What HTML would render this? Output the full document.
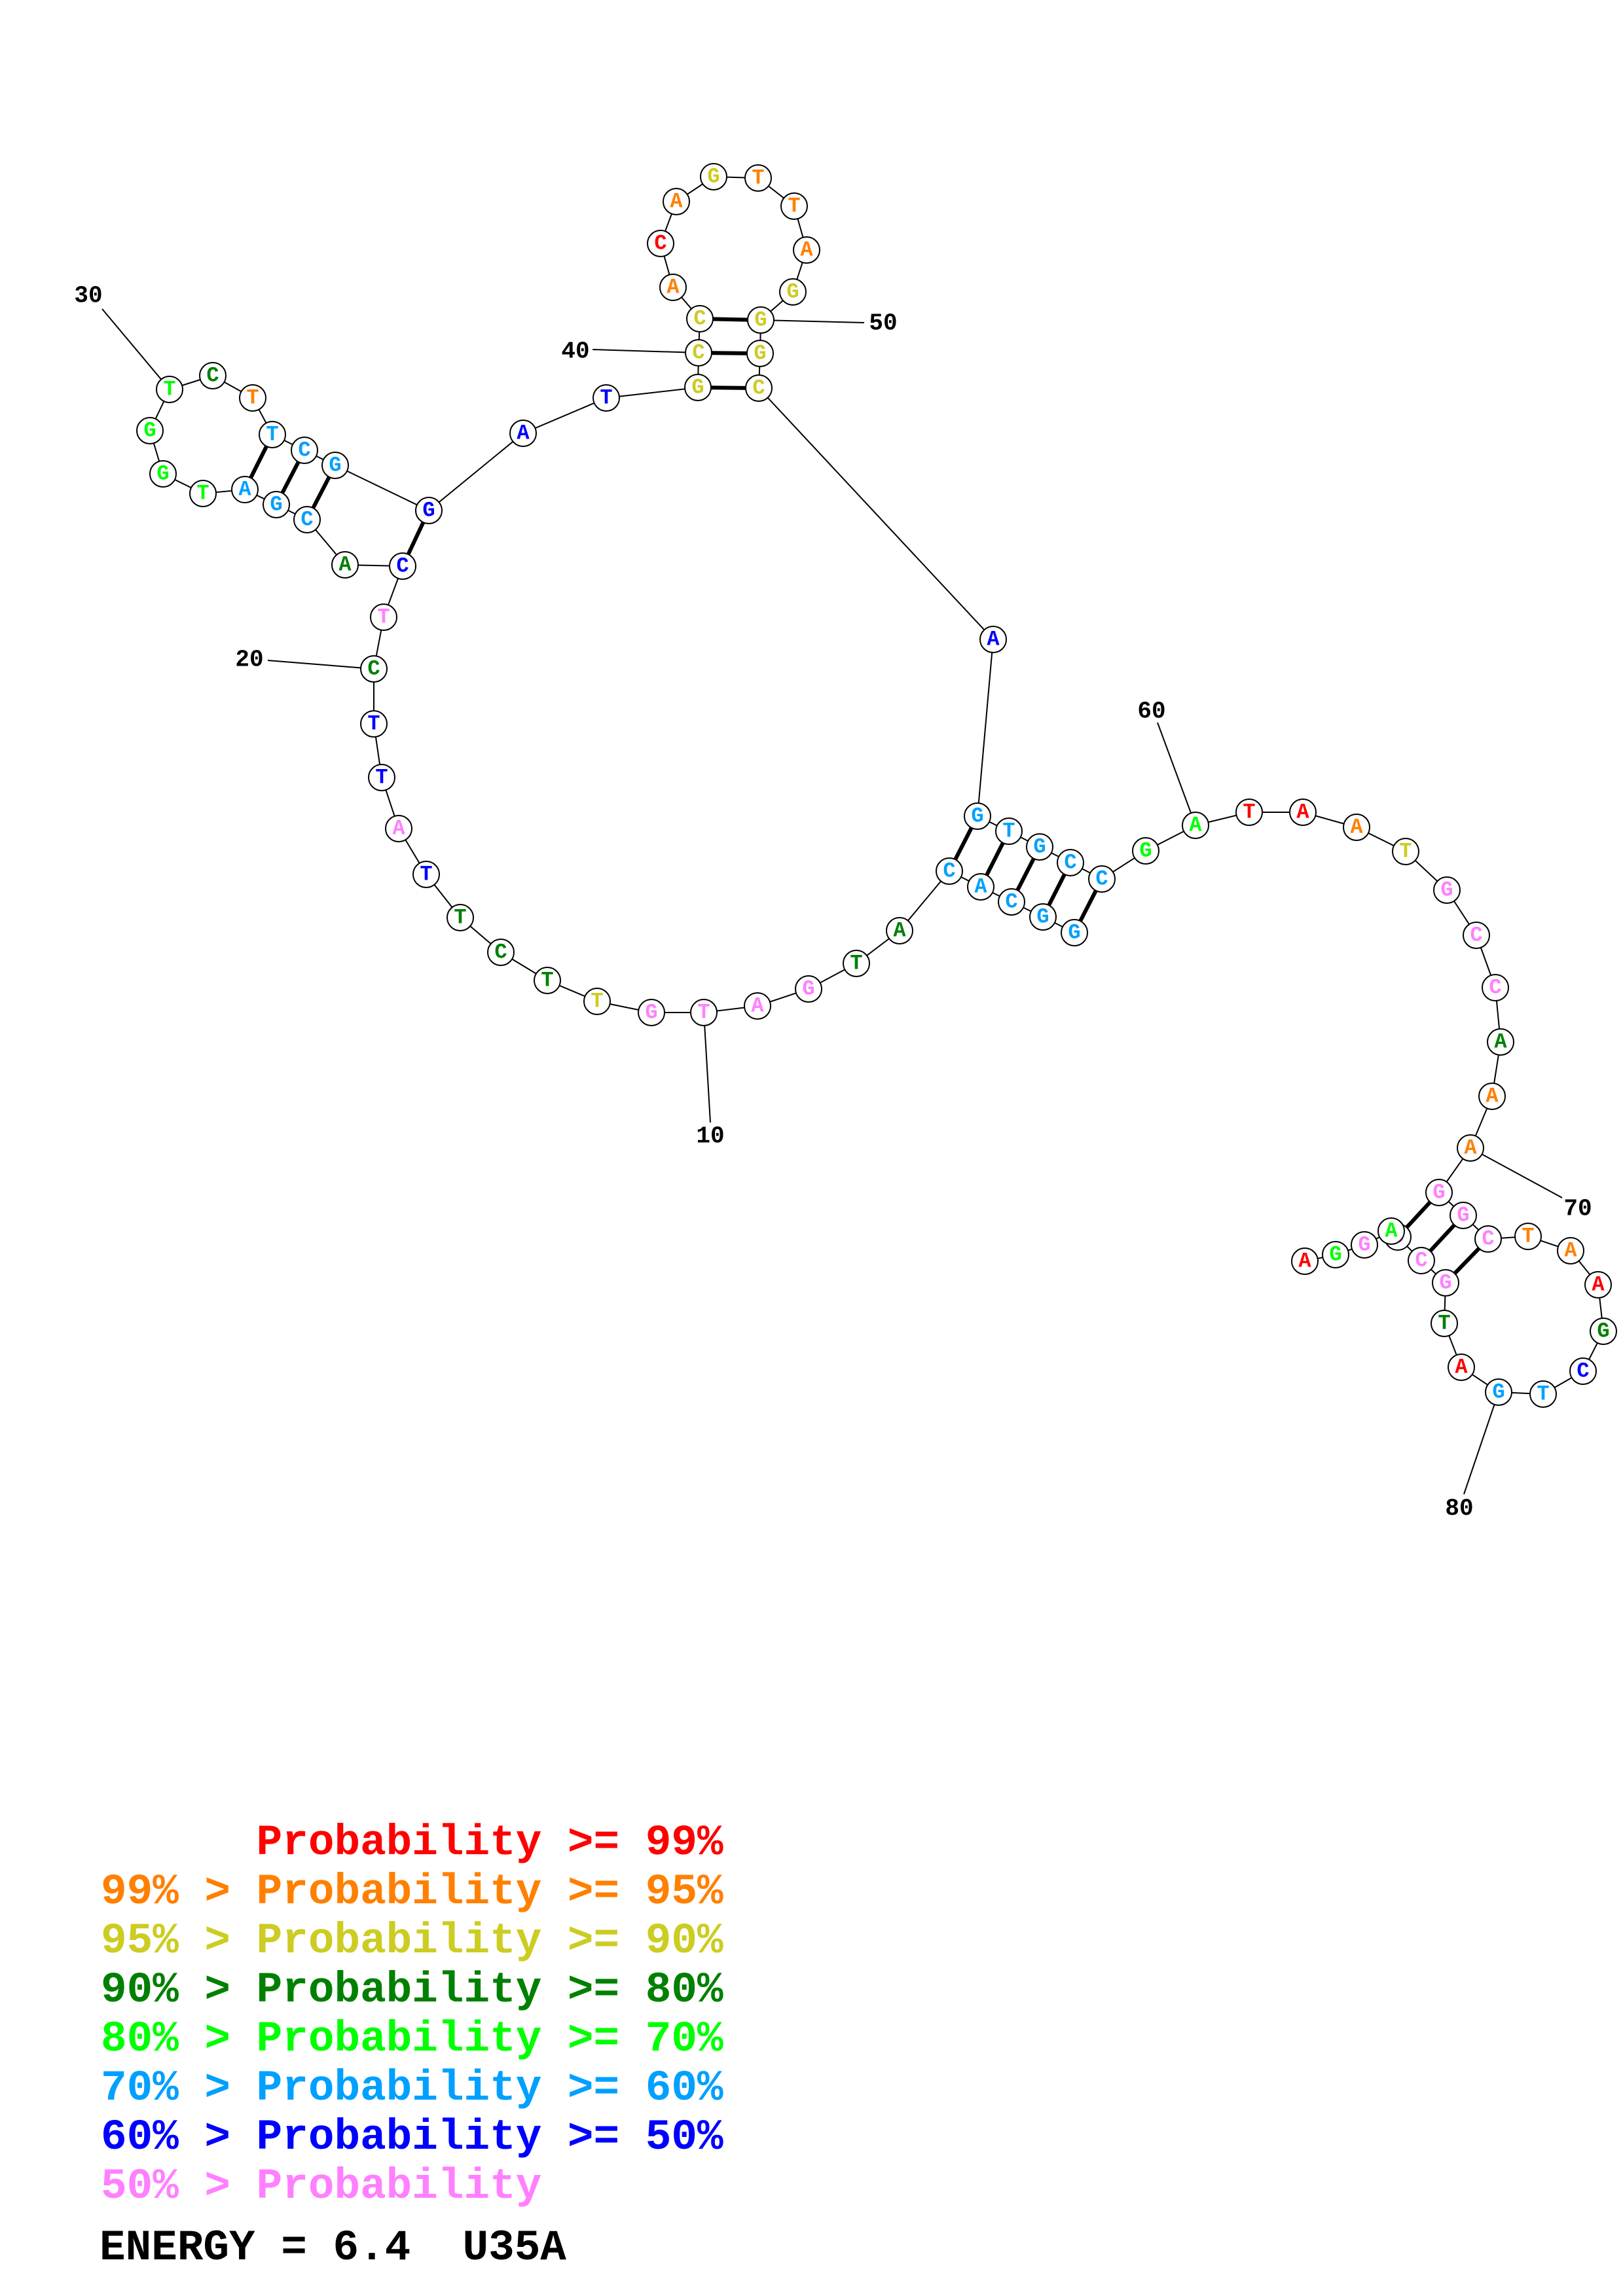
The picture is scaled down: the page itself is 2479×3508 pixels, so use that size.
<!DOCTYPE html>
<html><head><meta charset="utf-8"><style>
html,body{margin:0;padding:0;background:#fff;}
svg{display:block;}
.n{font-family:"Liberation Mono",monospace;font-weight:bold;font-size:32px;text-anchor:middle;dominant-baseline:central;}
.l{font-family:"Liberation Mono",monospace;font-weight:bold;font-size:36px;text-anchor:middle;dominant-baseline:central;fill:#000;}
.g{font-family:"Liberation Mono",monospace;font-weight:bold;font-size:66px;white-space:pre;}
circle{fill:#fff;stroke:#000;stroke-width:2;}
</style></head><body>
<svg width="2479" height="3508" viewBox="0 0 2479 3508" xmlns="http://www.w3.org/2000/svg">
<rect width="2479" height="3508" fill="#fff"/>
<g stroke="#000" stroke-width="2" fill="none">
<polyline points="1641,1425 1593,1401 1545,1378 1498,1355 1450,1331 1374,1422 1308,1472 1235,1511 1157,1537 1075,1547 995,1547 912,1530 836,1498 765,1455 703,1402 651,1336 609,1266 583,1188 571,1106 571,1022 586,943 615,865 527,863 469,794 422,771 374,748 310,754 249,724 229,658 259,595 325,574 386,608 416,664 465,688 512,711 655,780 799,662 926,608 1066,592 1067,539 1069,487 1028,439 1009,372 1033,308 1090,270 1158,272 1213,315 1232,382 1211,446 1162,489 1161,540 1159,593 1517,977 1493,1247 1541,1270 1588,1294 1635,1318 1683,1343 1750,1300 1826,1261 1908,1241 1990,1241 2072,1264 2147,1301 2210,1360 2255,1429 2284,1509 2292,1592 2279,1675 2246,1754 2198,1822 2235,1857 2273,1893 2334,1889 2399,1911 2441,1963 2449,2034 2418,2095 2357,2130 2289,2127 2232,2089 2206,2022 2208,1960 2171,1926 2135,1890 2125,1881 2084,1902 2040,1917 1993,1927"/>
<line x1="1075" y1="1547" x2="1085" y2="1715"/>
<line x1="571" y1="1022" x2="409" y2="1009"/>
<line x1="259" y1="595" x2="156" y2="472"/>
<line x1="1067" y1="539" x2="905" y2="534"/>
<line x1="1162" y1="489" x2="1320" y2="493"/>
<line x1="1826" y1="1261" x2="1768" y2="1104"/>
<line x1="2246" y1="1754" x2="2386" y2="1830"/>
<line x1="2289" y1="2127" x2="2236" y2="2283"/>
</g>
<g stroke="#000" stroke-width="6">
<line x1="1450" y1="1331" x2="1493" y2="1247"/>
<line x1="1498" y1="1355" x2="1541" y2="1270"/>
<line x1="1545" y1="1378" x2="1588" y2="1294"/>
<line x1="1593" y1="1401" x2="1635" y2="1318"/>
<line x1="1641" y1="1425" x2="1683" y2="1343"/>
<line x1="615" y1="865" x2="655" y2="780"/>
<line x1="469" y1="794" x2="512" y2="711"/>
<line x1="422" y1="771" x2="465" y2="688"/>
<line x1="374" y1="748" x2="416" y2="664"/>
<line x1="1066" y1="592" x2="1159" y2="593"/>
<line x1="1067" y1="539" x2="1161" y2="540"/>
<line x1="1069" y1="487" x2="1162" y2="489"/>
<line x1="2135" y1="1890" x2="2198" y2="1822"/>
<line x1="2171" y1="1926" x2="2235" y2="1857"/>
<line x1="2208" y1="1960" x2="2273" y2="1893"/>
</g>
<text class="l" x="1085" y="1736">10</text>
<text class="l" x="381" y="1008">20</text>
<text class="l" x="135" y="452">30</text>
<text class="l" x="879" y="537">40</text>
<text class="l" x="1349" y="494">50</text>
<text class="l" x="1759" y="1087">60</text>
<text class="l" x="2410" y="1847">70</text>
<text class="l" x="2229" y="2305">80</text>
<g>
<circle cx="1641" cy="1425" r="20"/><text class="n" x="1641" y="1425" fill="#00a0ff">G</text>
<circle cx="1593" cy="1401" r="20"/><text class="n" x="1593" y="1401" fill="#00a0ff">G</text>
<circle cx="1545" cy="1378" r="20"/><text class="n" x="1545" y="1378" fill="#00a0ff">C</text>
<circle cx="1498" cy="1355" r="20"/><text class="n" x="1498" y="1355" fill="#00a0ff">A</text>
<circle cx="1450" cy="1331" r="20"/><text class="n" x="1450" y="1331" fill="#00a0ff">C</text>
<circle cx="1374" cy="1422" r="20"/><text class="n" x="1374" y="1422" fill="#008000">A</text>
<circle cx="1308" cy="1472" r="20"/><text class="n" x="1308" y="1472" fill="#008000">T</text>
<circle cx="1235" cy="1511" r="20"/><text class="n" x="1235" y="1511" fill="#ff80ff">G</text>
<circle cx="1157" cy="1537" r="20"/><text class="n" x="1157" y="1537" fill="#ff80ff">A</text>
<circle cx="1075" cy="1547" r="20"/><text class="n" x="1075" y="1547" fill="#ff80ff">T</text>
<circle cx="995" cy="1547" r="20"/><text class="n" x="995" y="1547" fill="#ff80ff">G</text>
<circle cx="912" cy="1530" r="20"/><text class="n" x="912" y="1530" fill="#cccc22">T</text>
<circle cx="836" cy="1498" r="20"/><text class="n" x="836" y="1498" fill="#008000">T</text>
<circle cx="765" cy="1455" r="20"/><text class="n" x="765" y="1455" fill="#008000">C</text>
<circle cx="703" cy="1402" r="20"/><text class="n" x="703" y="1402" fill="#008000">T</text>
<circle cx="651" cy="1336" r="20"/><text class="n" x="651" y="1336" fill="#0000ff">T</text>
<circle cx="609" cy="1266" r="20"/><text class="n" x="609" y="1266" fill="#ff80ff">A</text>
<circle cx="583" cy="1188" r="20"/><text class="n" x="583" y="1188" fill="#0000ff">T</text>
<circle cx="571" cy="1106" r="20"/><text class="n" x="571" y="1106" fill="#0000ff">T</text>
<circle cx="571" cy="1022" r="20"/><text class="n" x="571" y="1022" fill="#008000">C</text>
<circle cx="586" cy="943" r="20"/><text class="n" x="586" y="943" fill="#ff80ff">T</text>
<circle cx="615" cy="865" r="20"/><text class="n" x="615" y="865" fill="#0000ff">C</text>
<circle cx="527" cy="863" r="20"/><text class="n" x="527" y="863" fill="#008000">A</text>
<circle cx="469" cy="794" r="20"/><text class="n" x="469" y="794" fill="#00a0ff">C</text>
<circle cx="422" cy="771" r="20"/><text class="n" x="422" y="771" fill="#00a0ff">G</text>
<circle cx="374" cy="748" r="20"/><text class="n" x="374" y="748" fill="#00a0ff">A</text>
<circle cx="310" cy="754" r="20"/><text class="n" x="310" y="754" fill="#00ff00">T</text>
<circle cx="249" cy="724" r="20"/><text class="n" x="249" y="724" fill="#00ff00">G</text>
<circle cx="229" cy="658" r="20"/><text class="n" x="229" y="658" fill="#00ff00">G</text>
<circle cx="259" cy="595" r="20"/><text class="n" x="259" y="595" fill="#00ff00">T</text>
<circle cx="325" cy="574" r="20"/><text class="n" x="325" y="574" fill="#008000">C</text>
<circle cx="386" cy="608" r="20"/><text class="n" x="386" y="608" fill="#ff8000">T</text>
<circle cx="416" cy="664" r="20"/><text class="n" x="416" y="664" fill="#00a0ff">T</text>
<circle cx="465" cy="688" r="20"/><text class="n" x="465" y="688" fill="#00a0ff">C</text>
<circle cx="512" cy="711" r="20"/><text class="n" x="512" y="711" fill="#00a0ff">G</text>
<circle cx="655" cy="780" r="20"/><text class="n" x="655" y="780" fill="#0000ff">G</text>
<circle cx="799" cy="662" r="20"/><text class="n" x="799" y="662" fill="#0000ff">A</text>
<circle cx="926" cy="608" r="20"/><text class="n" x="926" y="608" fill="#0000ff">T</text>
<circle cx="1066" cy="592" r="20"/><text class="n" x="1066" y="592" fill="#cccc22">G</text>
<circle cx="1067" cy="539" r="20"/><text class="n" x="1067" y="539" fill="#cccc22">C</text>
<circle cx="1069" cy="487" r="20"/><text class="n" x="1069" y="487" fill="#cccc22">C</text>
<circle cx="1028" cy="439" r="20"/><text class="n" x="1028" y="439" fill="#ff8000">A</text>
<circle cx="1009" cy="372" r="20"/><text class="n" x="1009" y="372" fill="#ff0000">C</text>
<circle cx="1033" cy="308" r="20"/><text class="n" x="1033" y="308" fill="#ff8000">A</text>
<circle cx="1090" cy="270" r="20"/><text class="n" x="1090" y="270" fill="#cccc22">G</text>
<circle cx="1158" cy="272" r="20"/><text class="n" x="1158" y="272" fill="#ff8000">T</text>
<circle cx="1213" cy="315" r="20"/><text class="n" x="1213" y="315" fill="#ff8000">T</text>
<circle cx="1232" cy="382" r="20"/><text class="n" x="1232" y="382" fill="#ff8000">A</text>
<circle cx="1211" cy="446" r="20"/><text class="n" x="1211" y="446" fill="#cccc22">G</text>
<circle cx="1162" cy="489" r="20"/><text class="n" x="1162" y="489" fill="#cccc22">G</text>
<circle cx="1161" cy="540" r="20"/><text class="n" x="1161" y="540" fill="#cccc22">G</text>
<circle cx="1159" cy="593" r="20"/><text class="n" x="1159" y="593" fill="#cccc22">C</text>
<circle cx="1517" cy="977" r="20"/><text class="n" x="1517" y="977" fill="#0000ff">A</text>
<circle cx="1493" cy="1247" r="20"/><text class="n" x="1493" y="1247" fill="#00a0ff">G</text>
<circle cx="1541" cy="1270" r="20"/><text class="n" x="1541" y="1270" fill="#00a0ff">T</text>
<circle cx="1588" cy="1294" r="20"/><text class="n" x="1588" y="1294" fill="#00a0ff">G</text>
<circle cx="1635" cy="1318" r="20"/><text class="n" x="1635" y="1318" fill="#00a0ff">C</text>
<circle cx="1683" cy="1343" r="20"/><text class="n" x="1683" y="1343" fill="#00a0ff">C</text>
<circle cx="1750" cy="1300" r="20"/><text class="n" x="1750" y="1300" fill="#00ff00">G</text>
<circle cx="1826" cy="1261" r="20"/><text class="n" x="1826" y="1261" fill="#00ff00">A</text>
<circle cx="1908" cy="1241" r="20"/><text class="n" x="1908" y="1241" fill="#ff0000">T</text>
<circle cx="1990" cy="1241" r="20"/><text class="n" x="1990" y="1241" fill="#ff0000">A</text>
<circle cx="2072" cy="1264" r="20"/><text class="n" x="2072" y="1264" fill="#ff8000">A</text>
<circle cx="2147" cy="1301" r="20"/><text class="n" x="2147" y="1301" fill="#cccc22">T</text>
<circle cx="2210" cy="1360" r="20"/><text class="n" x="2210" y="1360" fill="#ff80ff">G</text>
<circle cx="2255" cy="1429" r="20"/><text class="n" x="2255" y="1429" fill="#ff80ff">C</text>
<circle cx="2284" cy="1509" r="20"/><text class="n" x="2284" y="1509" fill="#ff80ff">C</text>
<circle cx="2292" cy="1592" r="20"/><text class="n" x="2292" y="1592" fill="#008000">A</text>
<circle cx="2279" cy="1675" r="20"/><text class="n" x="2279" y="1675" fill="#ff8000">A</text>
<circle cx="2246" cy="1754" r="20"/><text class="n" x="2246" y="1754" fill="#ff8000">A</text>
<circle cx="2198" cy="1822" r="20"/><text class="n" x="2198" y="1822" fill="#ff80ff">G</text>
<circle cx="2235" cy="1857" r="20"/><text class="n" x="2235" y="1857" fill="#ff80ff">G</text>
<circle cx="2273" cy="1893" r="20"/><text class="n" x="2273" y="1893" fill="#ff80ff">C</text>
<circle cx="2334" cy="1889" r="20"/><text class="n" x="2334" y="1889" fill="#ff8000">T</text>
<circle cx="2399" cy="1911" r="20"/><text class="n" x="2399" y="1911" fill="#ff8000">A</text>
<circle cx="2441" cy="1963" r="20"/><text class="n" x="2441" y="1963" fill="#ff0000">A</text>
<circle cx="2449" cy="2034" r="20"/><text class="n" x="2449" y="2034" fill="#008000">G</text>
<circle cx="2418" cy="2095" r="20"/><text class="n" x="2418" y="2095" fill="#0000ff">C</text>
<circle cx="2357" cy="2130" r="20"/><text class="n" x="2357" y="2130" fill="#00a0ff">T</text>
<circle cx="2289" cy="2127" r="20"/><text class="n" x="2289" y="2127" fill="#00a0ff">G</text>
<circle cx="2232" cy="2089" r="20"/><text class="n" x="2232" y="2089" fill="#ff0000">A</text>
<circle cx="2206" cy="2022" r="20"/><text class="n" x="2206" y="2022" fill="#008000">T</text>
<circle cx="2208" cy="1960" r="20"/><text class="n" x="2208" y="1960" fill="#ff80ff">G</text>
<circle cx="2171" cy="1926" r="20"/><text class="n" x="2171" y="1926" fill="#ff80ff">C</text>
<circle cx="2135" cy="1890" r="20"/><text class="n" x="2135" y="1890" fill="#ff80ff">C</text>
<circle cx="2125" cy="1881" r="20"/><text class="n" x="2125" y="1881" fill="#00ff00">A</text>
<circle cx="2084" cy="1902" r="20"/><text class="n" x="2084" y="1902" fill="#ff80ff">G</text>
<circle cx="2040" cy="1917" r="20"/><text class="n" x="2040" y="1917" fill="#00ff00">G</text>
<circle cx="1993" cy="1927" r="20"/><text class="n" x="1993" y="1927" fill="#ff0000">A</text>
</g>
<text class="g" x="154" y="2833" fill="#ff0000">      Probability &gt;= 99%</text>
<text class="g" x="154" y="2908" fill="#ff8000">99% &gt; Probability &gt;= 95%</text>
<text class="g" x="154" y="2983" fill="#cccc22">95% &gt; Probability &gt;= 90%</text>
<text class="g" x="154" y="3058" fill="#008000">90% &gt; Probability &gt;= 80%</text>
<text class="g" x="154" y="3133" fill="#00ff00">80% &gt; Probability &gt;= 70%</text>
<text class="g" x="154" y="3208" fill="#00a0ff">70% &gt; Probability &gt;= 60%</text>
<text class="g" x="154" y="3283" fill="#0000ff">60% &gt; Probability &gt;= 50%</text>
<text class="g" x="154" y="3358" fill="#ff80ff">50% &gt; Probability</text>
<text class="g" x="152" y="3452" fill="#000">ENERGY = 6.4  U35A</text>
</svg>
</body></html>
